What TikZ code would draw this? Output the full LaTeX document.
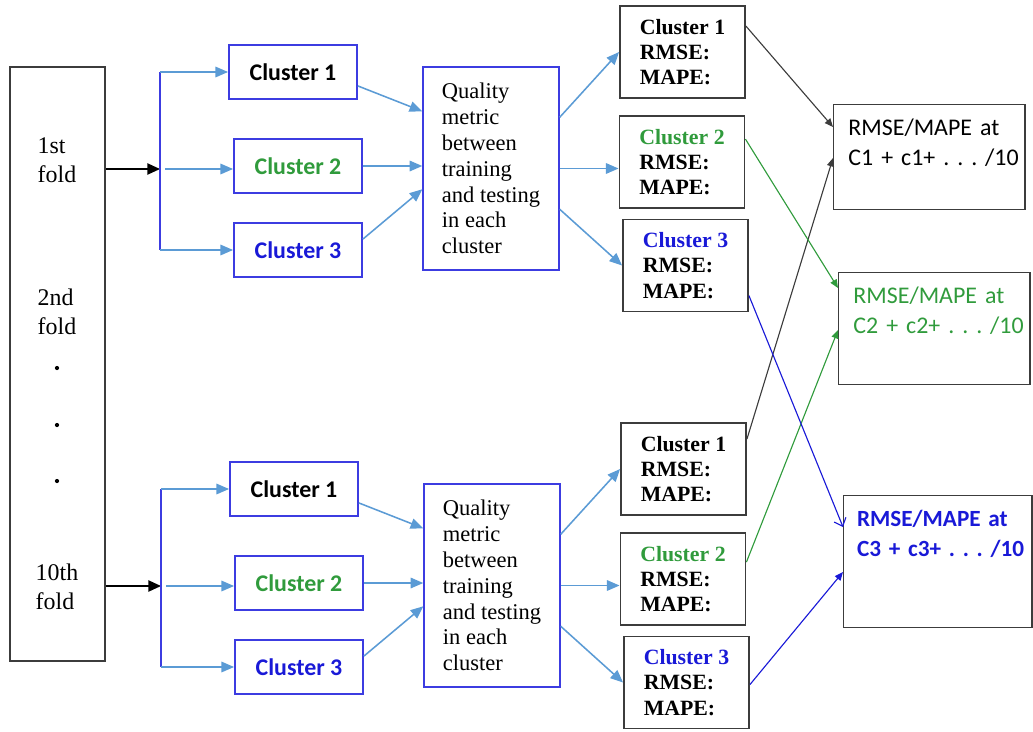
\documentclass[tikz,border=0pt]{standalone}
\usepackage{fontspec}
\setmainfont{Liberation Serif}
\newfontfamily\calibri{Carlito}
\usetikzlibrary{arrows.meta,calc}

\definecolor{lblue}{RGB}{91,155,213}
\definecolor{bblue}{RGB}{60,60,225}
\definecolor{cgreen}{RGB}{48,155,60}
\definecolor{cblue}{RGB}{25,25,215}
\definecolor{dgray}{RGB}{60,60,60}

\tikzset{
    cluster/.style={draw=bblue, line width=1.3pt, minimum width=3.2cm, minimum height=1.35cm, inner sep=0pt, font=\calibri\bfseries\fontsize{17}{20}\selectfont},
    quality/.style={draw=bblue, line width=1pt, minimum width=3.4cm, minimum height=5.075cm, align=left, font=\fontsize{16}{18.4}\selectfont},
    result/.style={draw=dgray, line width=1.3pt, minimum width=3.125cm, minimum height=2.3cm, align=left, font=\bfseries\fontsize{15.5}{18}\selectfont},
    final/.style={draw=dgray, line width=1pt, anchor=north west, text width=115pt, align=left, inner xsep=10.5pt, inner ysep=9pt, text height=13pt, font=\calibri\fontsize{17}{21.3}\selectfont},
    foldtext/.style={align=left, font=\fontsize{17}{21}\selectfont},
    bluearrow/.style={draw=lblue, line width=1.1pt, -{Triangle[length=9pt,width=7.5pt]}},
    branch/.style={draw=bblue, line width=1.1pt},
    foldarrow/.style={draw=black, line width=1.1pt, -{Triangle[length=9pt,width=8pt]}},
    outarrow/.style={line width=0.8pt, -{Triangle[length=6pt,width=5pt]}}
}

\begin{document}
\begin{tikzpicture}[x=0.025cm, y=-0.025cm]
\useasboundingbox (0,0) rectangle (1033,731);

\node[draw=dgray, line width=1.3pt, minimum width=2.375cm, minimum height=14.85cm] (fold) at (57.5,364) {};
\node[foldtext] (f1st) at (57,160) {1st\\fold};
\node[foldtext] (f2nd) at (57,312) {2nd\\fold};
\node[foldtext] (f10th) at (57,587) {10th\\fold};
\foreach \y in {368,425,481} \fill (57,\y) circle (1.5pt);

% Variables: 1 := shift, 2 := ID.
\def\foldblock(#1)#2{
    \begin{scope}[shift={(#1)}]
        \coordinate (#2 split) at (160,169);
        \node[cluster] (#2 C1) at (293,72) {Cluster 1};
        \node[cluster, text=cgreen] (#2 C2) at (298,166) {Cluster 2};
        \node[cluster, text=cblue] (#2 C3) at (298,250) {Cluster 3};
        \node[quality] (#2 Q) at (491,168.5) {Quality\\metric\\between\\training\\and testing\\in each\\cluster};
        \node[result] (#2 R1) at (682.5,52) {Cluster 1\\RMSE:\\MAPE:};
        \node[result] (#2 R2) at (682,162) {\textcolor{cgreen}{Cluster 2}\\RMSE:\\MAPE:};
        \node[result] (#2 R3) at (685.5,265.5) {\textcolor{cblue}{Cluster 3}\\RMSE:\\MAPE:};
        \draw[foldarrow] (fold.east |- #2 split) -- (#2 split);
        \draw[branch] (#2 split |- #2 C1.west) -- (#2 split |- #2 C3.west);
        \draw[bluearrow] (#2 split |- #2 C1.west) -- (#2 C1.west);
        \draw[bluearrow] ($(#2 split)+(5,0)$) -- (#2 split -| #2 C2.west);
        \draw[bluearrow] (#2 split |- #2 C3.west) -- (#2 C3.west);
        \draw[bluearrow] ($(#2 C1.east)!0.5!(#2 C1.south east)$) -- ($(#2 Q.north west)+(0,45)$);
        \draw[bluearrow] (#2 C2.east) -- (#2 C2.east -| #2 Q.west);
        \draw[bluearrow] ($(#2 C3.north east)+(0,17)$) -- ($(#2 Q.north west)+(0,123)$);
        \draw[bluearrow] ($(#2 Q.north east)+(0,51)$) -- (#2 R1.west);
        \draw[bluearrow] (#2 Q.east) -- (#2 Q.east -| #2 R2.west);
        \draw[bluearrow] ($(#2 Q.north east)+(0,143)$) -- (#2 R3.west);
    \end{scope}
}
\foldblock(0,0){1}
\foldblock(1,417){2}

\node[final, text depth=43.4pt] (F1) at (833,104) {RMSE/MAPE at\\C1~+~c1+~.~.~.~/10};
\node[final, text depth=48.4pt, text=cgreen] (F2) at (838,272) {RMSE/MAPE at\\C2~+~c2+~.~.~.~/10};
\node[final, text depth=62.6pt, text=cblue, inner xsep=9.5pt, font=\calibri\bfseries\fontsize{16.5}{21.3}\selectfont] (F3) at (843,495) {RMSE/MAPE at\\C3~+~c3+~.~.~.~/10};

\draw[outarrow, dgray] ($(1 R1.north east)+(0,21)$) -- ($(F1.north west)+(0,23)$);
\draw[outarrow, dgray] ($(2 R1.north east)+(0,17)$) -- ($(F1.north west)+(0,54)$);
\draw[outarrow, cgreen] ($(1 R2.north east)+(0,24)$) -- ($(F2.north west)+(0,16)$);
\draw[outarrow, cgreen] ($(2 R2.north east)+(0,30)$) -- ($(F2.north west)+(0,58)$);
\draw[line width=0.8pt, cblue, -{Straight Barb[length=5pt,width=9pt]}] ($(1 R3.north east)+(0,77)$) -- ($(F3.north west)+(0,32)$);
\draw[outarrow, cblue] ($(2 R3.north east)+(0,49)$) -- ($(F3.north west)+(0,77)$);
\end{tikzpicture}
\end{document}
